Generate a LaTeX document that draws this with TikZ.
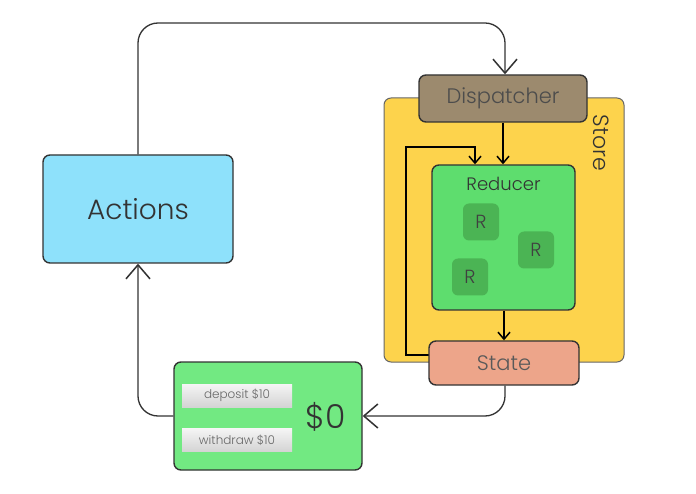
\documentclass[tikz,border=0pt]{standalone}
\usepackage{fontspec}
\setmainfont{Poppins}[UprightFont=* Light]
\usetikzlibrary{arrows.meta}
\definecolor{actc}{HTML}{8EE1FB}
\definecolor{dispc}{HTML}{9C8A6E}
\definecolor{storec}{HTML}{FDD34C}
\definecolor{redc}{HTML}{5EDD6E}
\definecolor{rc}{HTML}{4BB454}
\definecolor{statec}{HTML}{EDA58A}
\definecolor{moneyc}{HTML}{72E982}
\definecolor{txtc}{HTML}{333333}
\tikzset{
  box/.style={draw=black!80, line width=1.4pt, rounded corners=7pt, inner sep=0pt, text=txtc},
  rbox/.style={fill=rc, rounded corners=6pt, minimum width=36pt, minimum height=37pt, inner sep=0pt, font=\fontsize{19}{19}\selectfont, text=black!75},
  btn/.style={top color=white!96!black, bottom color=white!83!black, minimum width=110pt, minimum height=23pt, inner sep=0pt, text=black!60, font=\fontsize{12}{12}\selectfont},
  conn/.style={draw=black!80, line width=1.3pt, rounded corners=20pt, -{Straight Barb[length=14pt,width=24pt,line width=1.5pt]}},
  inner/.style={draw=black, line width=1.8pt, -{Straight Barb[length=7pt,width=12pt,line width=1.5pt]}}
}
\begin{document}
\begin{tikzpicture}[x=1pt,y=-1pt]
\useasboundingbox[fill=white] (0,0) rectangle (696,494);
% store
\node[box, fill=storec, draw=black!60, line width=1pt, minimum width=240pt, minimum height=264pt] (store) at (504,230) {};
\node[rotate=-90, text=txtc, font=\fontsize{22}{22}\selectfont] (storelbl) at (601,143) {Store};
% reducer
\node[box, fill=redc, minimum width=143pt, minimum height=145pt] (reducer) at (503.5,237.5) {};
\node[text=txtc, font=\fontsize{18}{18}\selectfont] (redlbl) at (503.5,184) {Reducer};
\node[rbox] (r1) at (481,222) {R};
\node[rbox] (r2) at (536,250) {R};
\node[rbox] (r3) at (470,277) {R};
% feedback loop
\coordinate (fbA) at (406,355);
\coordinate (fbB) at (406,147);
\coordinate (fbC) at (475,147);
\draw[inner] (429,355) -- (fbA) -- (fbB) -- (fbC) -- (fbC |- reducer.north);
% dispatcher and state
\node[box, fill=dispc, minimum width=168pt, minimum height=47pt, font=\fontsize{21}{21}\selectfont, text=black!70] (disp) at (503,98.5) {Dispatcher};
\node[box, fill=statec, minimum width=150pt, minimum height=44pt, font=\fontsize{21}{21}\selectfont, text=black!65] (state) at (504,363) {State};
\draw[inner] (disp.south) -- (reducer.north -| disp.south);
\draw[inner] (reducer.south -| state.north) -- (state.north);
% actions
\node[box, fill=actc, minimum width=190pt, minimum height=108pt, font=\fontsize{28}{28}\selectfont] (actions) at (138,209) {Actions};
% money box
\node[box, fill=moneyc, minimum width=188pt, minimum height=108pt] (money) at (268,416) {};
\node[text=txtc, font=\fontsize{33}{33}\selectfont] (amount) at (326,417) {\$0};
\node[btn] (dep) at (237,395.5) {deposit \$10};
\node[btn] (wd) at (237,440) {withdraw \$10};
% main connectors
\coordinate (tl) at (138,23);
\coordinate (tr) at (505,23);
\coordinate (br) at (505,416);
\coordinate (bl) at (138,416);
\draw[conn] (actions.north) -- (tl) -- (tr) -- (tr |- disp.north);
\draw[conn] (br |- state.south) -- (br) -- (money.east);
\draw[conn] (money.west) -- (bl) -- (actions.south);
\end{tikzpicture}
\end{document}
